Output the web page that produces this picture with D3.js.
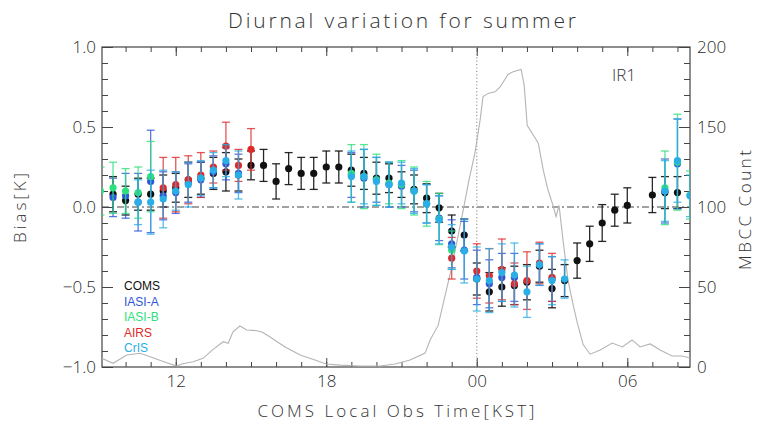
<!DOCTYPE html>
<html>
<head>
<meta charset="utf-8">
<script src="https://cdn.jsdelivr.net/npm/d3@7"></script>
<style>
  body { margin: 0; background: #fff; }
  svg text { font-family: "Open Sans", "DejaVu Sans", sans-serif; font-weight: 300; fill: #333; }
  svg text.legend-item { font-family: "Liberation Sans", Arial, sans-serif; font-weight: 400; }
</style>
</head>
<body>
<svg id="chart" width="760" height="438"></svg>
<script>
// Half-hour bins of local observation time (hours after 00 KST of day 1; 24+ = next day)
const hours = [
   9.0,  9.5, 10.0, 10.5, 11.0, 11.5, 12.0, 12.5,
  13.0, 13.5, 14.0, 14.5, 15.0, 15.5, 16.0, 16.5,
  17.0, 17.5, 18.0, 18.5, 19.0, 19.5, 20.0, 20.5,
  21.0, 21.5, 22.0, 22.5, 23.0, 23.5, 24.0, 24.5,
  25.0, 25.5, 26.0, 26.5, 27.0, 27.5, 28.0, 28.5,
  29.0, 29.5, 30.0, 30.5, 31.0, 31.5, 32.0, 32.5
];

// Mean bias [K] and standard deviation per bin, one pair per reference sensor
const comsBias = [
  null, 0.08, 0.04, 0.08, 0.08, 0.10, 0.12, 0.17,
  0.18, 0.21, 0.22, 0.20, 0.26, 0.26, 0.16, 0.24,
  0.21, 0.21, 0.25, 0.25, 0.23, 0.21, 0.18, 0.18,
  0.14, 0.11, 0.055, -0.005, -0.15, -0.175, -0.45, -0.53,
  -0.50, -0.49, -0.47, -0.37, -0.51, -0.46, -0.335, -0.23,
  -0.10, -0.02, 0.01, null, 0.075, 0.09, 0.09, null
];
const comsStd = [
  null, 0.11, 0.09, 0.10, 0.10, 0.10, 0.09, 0.11,
  0.10, 0.10, 0.12, 0.10, 0.09, 0.10, 0.11, 0.10,
  0.10, 0.10, 0.10, 0.10, 0.10, 0.10, 0.10, 0.09,
  0.08, 0.09, 0.09, 0.09, 0.10, 0.10, 0.10, 0.12,
  0.12, 0.12, 0.11, 0.10, 0.12, 0.10, 0.11, 0.11,
  0.115, 0.10, 0.11, null, 0.11, 0.10, 0.10, null
];
const iasiABias = [
  null, 0.06, 0.07, 0.03, 0.16, 0.07, 0.09, 0.15,
  0.17, 0.22, 0.27, 0.21, null, null, null, null,
  null, null, null, null, 0.20, 0.18, 0.17, 0.14,
  0.13, 0.10, 0.02, -0.07, -0.23, -0.27, -0.44, -0.48,
  -0.44, -0.44, null, -0.36, -0.45, null, null, null,
  null, null, null, null, null, 0.10, 0.27, null
];
const iasiAStd = [
  null, 0.12, 0.14, 0.18, 0.32, 0.15, 0.13, 0.12,
  0.11, 0.10, 0.10, 0.12, null, null, null, null,
  null, null, null, null, 0.14, 0.18, 0.14, 0.14,
  0.13, 0.13, 0.12, 0.14, 0.15, 0.18, 0.17, 0.15,
  0.15, 0.15, null, 0.13, 0.14, null, null, null,
  null, null, null, null, null, 0.20, 0.28, null
];
const iasiBBias = [
  0.10, 0.12, 0.10, 0.09, 0.19, null, null, null,
  null, null, null, null, null, null, null, null,
  null, null, null, null, 0.21, 0.19, 0.17, 0.15,
  0.14, 0.10, 0.02, -0.075, -0.27, null, null, null,
  null, null, null, null, null, null, null, null,
  null, null, null, null, null, 0.12, 0.28, 0.075
];
const iasiBStd = [
  0.15, 0.16, 0.14, 0.16, 0.22, null, null, null,
  null, null, null, null, null, null, null, null,
  null, null, null, null, 0.18, 0.20, 0.16, 0.13,
  0.15, 0.15, 0.14, 0.16, 0.12, null, null, null,
  null, null, null, null, null, null, null, null,
  null, null, null, null, null, 0.23, 0.30, 0.15
];
const airsBias = [
  null, null, null, null, null, 0.12, 0.14, 0.17,
  0.20, 0.25, 0.38, 0.26, 0.36, null, null, null,
  null, null, null, null, null, null, null, null,
  null, null, null, null, -0.32, null, -0.40, -0.43,
  -0.39, -0.48, -0.46, -0.35, -0.44, null, null, null,
  null, null, null, null, null, null, null, null
];
const airsStd = [
  null, null, null, null, null, 0.19, 0.17, 0.15,
  0.14, 0.10, 0.15, 0.10, 0.13, null, null, null,
  null, null, null, null, null, null, null, null,
  null, null, null, null, 0.13, null, 0.17, 0.17,
  0.19, 0.13, 0.18, 0.13, 0.15, null, null, null,
  null, null, null, null, null, null, null, null
];
const crisBias = [
  null, null, null, 0.03, 0.03, 0.05, 0.10, 0.14,
  0.18, 0.23, 0.29, 0.20, null, null, null, null,
  null, null, null, null, 0.19, 0.19, 0.16, 0.14,
  0.15, 0.10, 0.02, -0.08, -0.25, -0.275, -0.45, -0.46,
  -0.41, -0.425, -0.53, -0.36, -0.46, -0.45, null, null,
  null, null, null, null, null, 0.10, 0.29, 0.07
];
const crisStd = [
  null, null, null, 0.14, 0.20, 0.18, 0.12, 0.14,
  0.11, 0.11, 0.10, 0.15, null, null, null, null,
  null, null, null, null, 0.16, 0.17, 0.15, 0.14,
  0.13, 0.14, 0.12, 0.15, 0.14, 0.20, 0.20, 0.20,
  0.18, 0.20, 0.16, 0.13, 0.15, 0.12, null, null,
  null, null, null, null, null, 0.19, 0.26, 0.13
];

// Matched collocation (MBCC) count along local time
const countHours = [
  9.05, 9.5, 10.05, 10.58, 10.98, 11.64, 12.04, 12.24, 12.69, 13.09,
  13.49, 13.89, 14.09, 14.28, 14.56, 14.83, 15.23, 15.44, 15.76, 16.36,
  16.96, 17.55, 17.99, 18.55, 19.35, 20.15, 20.74, 21.34, 21.94, 22.14,
  22.46, 23.02, 23.46, 23.69, 23.93, 24.13, 24.25, 24.45, 24.73, 24.93,
  25.25, 25.45, 25.77, 25.89, 26.01, 26.25, 26.45, 26.65, 26.84, 27.04,
  27.16, 27.28, 27.44, 27.64, 27.84, 28.0, 28.24, 28.52, 28.92, 29.4,
  29.8, 30.19, 30.51, 30.91, 31.31, 31.79, 32.19, 32.5
];
const mbccCount = [
  5.4, 2.3, 7.5, 8.6, 6.4, 2.7, 0.6, 1.9, 3.3, 5.4,
  11, 15.8, 14.8, 22, 25.6, 23.1, 22.7, 21.9, 18.8, 12.5,
  7.5, 4.4, 1.9, 1.2, 0.6, 0.6, 1.9, 4.4, 8.7, 16.9,
  26, 63.7, 98, 117, 134, 154, 169, 171, 172, 175,
  183, 184.5, 186, 176, 151, 145, 140, 123, 110.6, 101,
  94, 101, 79, 54, 39, 28, 14, 8, 10.6, 15,
  12.5, 16.9, 12.5, 14.4, 10.6, 6.9, 6.9, 5.6
];

const sensorNames = ["COMS", "IASI-A", "IASI-B", "AIRS", "CrIS"];
const sensorColors = ["#111111", "#2f55d8", "#2ee07c", "#e02a2a", "#2aaee6"];
const sensorBias = [comsBias, iasiABias, iasiBBias, airsBias, crisBias];
const sensorStd = [comsStd, iasiAStd, iasiBStd, airsStd, crisStd];

const timeTickValues = [12, 18, 24, 30];
const timeTickLabels = ["12", "18", "00", "06"];
const biasTickValues = [-1.0, -0.5, 0.0, 0.5, 1.0];
const countTickValues = [0, 50, 100, 150, 200];

// ---- layout ----
const svg = d3.select("#chart");
const plotL = 102, plotR = 690, plotT = 47, plotB = 367;

const x = d3.scaleLinear().domain([9.06, 32.5]).range([plotL, plotR]);
const y = d3.scaleLinear().domain([-1, 1]).range([plotB, plotT]);
const yCount = d3.scaleLinear().domain([0, 200]).range([plotB, plotT]);

svg.append("defs").append("clipPath").attr("id", "plotClip")
  .append("rect").attr("x", plotL).attr("y", plotT)
  .attr("width", plotR - plotL).attr("height", plotB - plotT);

const axisColor = "#444";
function styleAxis(g) {
  g.select(".domain").remove();
  g.selectAll(".tick line").attr("stroke", axisColor).attr("stroke-width", 1);
  g.selectAll(".tick text").style("fill", "#2a2a2a").style("font-size", "17px");
}

// hour ticks (minor) and labelled ticks on the time axes
const hourTicks = d3.range(10, 33, 1);
svg.append("g").attr("transform", `translate(0,${plotB})`)
  .call(d3.axisBottom(x).tickValues(hourTicks).tickSize(-5).tickFormat(""))
  .call(styleAxis);
svg.append("g").attr("transform", `translate(0,${plotB})`)
  .call(d3.axisBottom(x).tickValues(timeTickValues).tickSize(-9).tickPadding(8)
    .tickFormat((d, i) => timeTickLabels[i]))
  .call(styleAxis);
svg.append("g").attr("transform", `translate(0,${plotT})`)
  .call(d3.axisTop(x).tickValues(hourTicks).tickSize(-5).tickFormat(""))
  .call(styleAxis);
svg.append("g").attr("transform", `translate(0,${plotT})`)
  .call(d3.axisTop(x).tickValues(timeTickValues).tickSize(-9).tickFormat(""))
  .call(styleAxis);

// bias axis (left)
svg.append("g").attr("transform", `translate(${plotL},0)`)
  .call(d3.axisLeft(y).tickValues(d3.range(-10, 11).map(v => v / 10)).tickSize(-6).tickFormat(""))
  .call(styleAxis);
svg.append("g").attr("transform", `translate(${plotL},0)`)
  .call(d3.axisLeft(y).tickValues(biasTickValues).tickSize(-11).tickPadding(6)
    .tickFormat(d3.format(".1f")))
  .call(styleAxis);

// count axis (right)
svg.append("g").attr("transform", `translate(${plotR},0)`)
  .call(d3.axisRight(yCount).tickValues(d3.range(0, 201, 10)).tickSize(-6).tickFormat(""))
  .call(styleAxis);
svg.append("g").attr("transform", `translate(${plotR},0)`)
  .call(d3.axisRight(yCount).tickValues(countTickValues).tickSize(-11).tickPadding(7)
    .tickFormat(d3.format("d")))
  .call(styleAxis);

// frame
svg.append("rect").attr("x", plotL).attr("y", plotT)
  .attr("width", plotR - plotL).attr("height", plotB - plotT)
  .attr("fill", "none").attr("stroke", axisColor).attr("stroke-width", 1.2);

const plot = svg.append("g").attr("clip-path", "url(#plotClip)");

// reference lines: zero bias and local midnight
plot.append("line")
  .attr("x1", plotL).attr("x2", plotR).attr("y1", y(0)).attr("y2", y(0))
  .attr("stroke", "#444").attr("stroke-width", 1.2).attr("stroke-dasharray", "7,3,2,3");
plot.append("line")
  .attr("x1", x(24)).attr("x2", x(24)).attr("y1", plotT).attr("y2", plotB)
  .attr("stroke", "#999").attr("stroke-width", 1.2).attr("stroke-dasharray", "1.2,2.2");

// MBCC count curve on the right axis
const countPoints = countHours.map((h, i) => [h, mbccCount[i]]);
plot.append("path")
  .datum(countPoints)
  .attr("fill", "none").attr("stroke", "#b4b4b4").attr("stroke-width", 1.1)
  .attr("d", d3.line().x(d => x(d[0])).y(d => yCount(d[1])));

// error bars and mean markers for each sensor
const capHalf = 4;
sensorNames.forEach((name, s) => {
  const rows = hours.map((h, i) => ({ h, m: sensorBias[s][i], e: sensorStd[s][i] }))
    .filter(d => d.m !== null);
  const g = plot.append("g").attr("stroke", sensorColors[s])
    .attr("stroke-opacity", s === 0 ? 0.9 : 0.8).attr("stroke-width", 1.3);
  g.selectAll("line.bar").data(rows).join("line").attr("class", "bar")
    .attr("x1", d => x(d.h)).attr("x2", d => x(d.h))
    .attr("y1", d => y(d.m - d.e)).attr("y2", d => y(d.m + d.e));
  g.selectAll("line.capTop").data(rows).join("line").attr("class", "capTop")
    .attr("x1", d => x(d.h) - capHalf).attr("x2", d => x(d.h) + capHalf)
    .attr("y1", d => y(d.m + d.e)).attr("y2", d => y(d.m + d.e));
  g.selectAll("line.capBot").data(rows).join("line").attr("class", "capBot")
    .attr("x1", d => x(d.h) - capHalf).attr("x2", d => x(d.h) + capHalf)
    .attr("y1", d => y(d.m - d.e)).attr("y2", d => y(d.m - d.e));
  plot.append("g").selectAll("circle").data(rows).join("circle")
    .attr("cx", d => x(d.h)).attr("cy", d => y(d.m)).attr("r", 3.6)
    .attr("fill", sensorColors[s]);
});

// legend
const legend = svg.append("g").attr("transform", "translate(124,290)");
sensorNames.forEach((name, s) => {
  legend.append("text").attr("class", "legend-item").attr("x", 0).attr("y", s * 15.5)
    .style("font-size", "12px").style("fill", sensorColors[s])
    .text(name);
});

// titles and labels
svg.append("text").attr("x", 402).attr("y", 28).attr("text-anchor", "middle")
  .style("font-size", "21px").attr("textLength", 348).attr("lengthAdjust", "spacing")
  .text("Diurnal variation for summer");
svg.append("text").attr("x", 396).attr("y", 417).attr("text-anchor", "middle")
  .style("font-size", "17px").attr("textLength", 277).attr("lengthAdjust", "spacing")
  .text("COMS Local Obs Time[KST]");
svg.append("text").attr("transform", "translate(26,208) rotate(-90)").attr("text-anchor", "middle")
  .style("font-size", "17px").attr("textLength", 70).attr("lengthAdjust", "spacing")
  .text("Bias[K]");
svg.append("text").attr("transform", "translate(751,210) rotate(-90)").attr("text-anchor", "middle")
  .style("font-size", "17px").attr("textLength", 120).attr("lengthAdjust", "spacing")
  .text("MBCC Count");
svg.append("text").attr("x", 624).attr("y", 81).attr("text-anchor", "middle")
  .style("font-size", "17px").text("IR1");
</script>
</body>
</html>
